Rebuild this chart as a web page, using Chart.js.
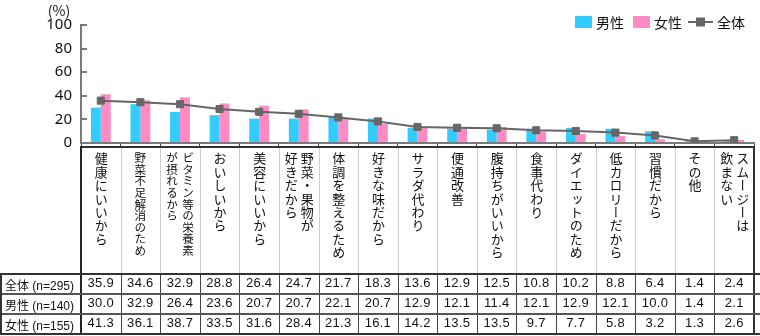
<!DOCTYPE html>
<html>
<head>
<meta charset="utf-8">
<script src="https://cdn.jsdelivr.net/npm/chart.js@4/dist/chart.umd.min.js"></script>
<style>
  html, body { margin: 0; padding: 0; background: #fff; }
  #wrap { position: relative; width: 760px; height: 336px; overflow: hidden; }
  #chart { position: absolute; left: 0; top: 0; }
  .ln { position: absolute; }
  .head { position: absolute; display: flex; justify-content: center; align-items: flex-start; box-sizing: border-box; padding-top: 6px; }
  .head span { writing-mode: vertical-rl; white-space: pre; font-family: "Noto Sans CJK JP", sans-serif; font-size: 13px; line-height: 16px; color: #111; letter-spacing: 0.4px; }
  .head span.long { font-size: 11.6px; letter-spacing: 0; line-height: 16px; }
  .cell { position: absolute; font-family: "Liberation Sans", Arial, sans-serif; font-size: 13px; color: #111; text-align: center; letter-spacing: 0.3px; box-sizing: border-box; padding-top: 2px; white-space: nowrap; }
  .rowlab { text-align: left; padding-left: 5px; font-size: 12px; padding-top: 3px; font-family: "Liberation Sans", "Noto Sans CJK JP", sans-serif; letter-spacing: 0; }
</style>
</head>
<body>
<div id="wrap">
  <canvas id="chart" width="760" height="336"></canvas>
  <div id="table"></div>
</div>
<script>
(function () {
    "use strict";

    const categories = [
        "健康にいいから", "野菜不足解消のため", "ビタミン等の栄養素\nが摂れるから", "おいしいから",
        "美容にいいから", "野菜・果物が\n好きだから", "体調を整えるため", "好きな味だから",
        "サラダ代わり", "便通改善", "腹持ちがいいから", "食事代わり", "ダイエットのため",
        "低カロリーだから", "習慣だから", "その他", "スムージーは\n飲まない"
    ];
    const overall = [35.9, 34.6, 32.9, 28.8, 26.4, 24.7, 21.7, 18.3, 13.6, 12.9, 12.5, 10.8, 10.2, 8.8, 6.4, 1.4, 2.4];
    const male    = [30.0, 32.9, 26.4, 23.6, 20.7, 20.7, 22.1, 20.7, 12.9, 12.1, 11.4, 12.1, 12.9, 12.1, 10.0, 1.4, 2.1];
    const female  = [41.3, 36.1, 38.7, 33.5, 31.6, 28.4, 21.3, 16.1, 14.2, 13.5, 13.5, 9.7, 7.7, 5.8, 3.2, 1.3, 2.6];
    const yTicks = [0, 20, 40, 60, 80, 100];
    const seriesNames = ["男性", "女性", "全体"];
    const rowLabels = ["全体 (n=295)", "男性 (n=140)", "女性 (n=155)"];

    const BLUE = "#33ccff";
    const PINK = "#ff8ac4";
    const GRAY = "#666666";
    const AXIS = "#7a7a7a";

    // legend + "(%)" drawn on the canvas
    const extras = {
        id: "extras",
        afterDraw(chart) {
            const ctx = chart.ctx;
            const y = chart.scales.y;
            ctx.save();
            ctx.fillStyle = "#111";
            ctx.font = '14px "Noto Sans CJK JP"';
            ctx.textAlign = "center";
            ctx.textBaseline = "middle";
            ctx.fillText("(%)", y.right - 22, 11);

            ctx.textAlign = "left";
            let x = 575;
            const cy = 22;
            [BLUE, PINK].forEach((c, i) => {
                ctx.fillStyle = c;
                ctx.fillRect(x, cy - 6, 17, 12);
                ctx.fillStyle = "#111";
                ctx.fillText(seriesNames[i], x + 21, cy + 1);
                x += 21 + ctx.measureText(seriesNames[i]).width + 9;
            });
            x = 688;
            ctx.strokeStyle = GRAY;
            ctx.lineWidth = 2;
            ctx.beginPath(); ctx.moveTo(x, cy); ctx.lineTo(x + 25, cy); ctx.stroke();
            ctx.fillStyle = GRAY;
            ctx.fillRect(x + 8, cy - 4.5, 9, 9);
            ctx.fillStyle = "#111";
            ctx.fillText(seriesNames[2], x + 29, cy + 1);
            ctx.restore();
        }
    };

    const chart = new Chart(document.getElementById("chart"), {
        type: "bar",
        data: {
            labels: categories,
            datasets: [
                { type: "line", label: seriesNames[2], data: overall, order: 0,
                  borderColor: GRAY, borderWidth: 2, backgroundColor: GRAY,
                  pointStyle: "rect", pointRadius: 5, pointBorderWidth: 1,
                  pointBackgroundColor: GRAY, pointBorderColor: GRAY, tension: 0 },
                { label: seriesNames[0], data: male, backgroundColor: BLUE, order: 1,
                  categoryPercentage: 0.5, barPercentage: 1 },
                { label: seriesNames[1], data: female, backgroundColor: PINK, order: 1,
                  categoryPercentage: 0.5, barPercentage: 1 },
            ],
        },
        options: {
            responsive: false, animation: false,
            layout: { padding: { top: 25, right: 1, bottom: 190, left: 0 } },
            plugins: { legend: { display: false }, tooltip: { enabled: false } },
            scales: {
                x: {
                    ticks: { display: false },
                    grid: { offset: true, drawOnChartArea: false, tickLength: 3, color: "#444", lineWidth: 1 },
                    border: { color: AXIS, width: 2 },
                    afterFit: s => { s.height = 3; },
                },
                y: {
                    min: 0, max: 100,
                    afterBuildTicks: s => { s.ticks = yTicks.map(v => ({ value: v })); },
                    ticks: { padding: 15, color: "#111", font: { family: "Noto Sans", size: 15 } },
                    grid: { drawOnChartArea: false, tickLength: -6, color: AXIS, lineWidth: 2 },
                    border: { color: AXIS, width: 2 },
                    afterFit: s => { s.width = 81; },
                },
            },
        },
        plugins: [extras],
    });

    // table under the plot, columns taken from the x scale
    function buildTable() {
        const xs = chart.scales.x;
        const left = chart.chartArea.left;
        const right = chart.chartArea.right;
        const cw = (right - left) / categories.length;
        const headTop = 146, headBot = 273, rowH = 20;
        const out = [];
        const line = (x, y, w, h, c) =>
            out.push(`<div class="ln" style="left:${x}px;top:${y}px;width:${w}px;height:${h}px;background:${c}"></div>`);

        categories.forEach((name, i) => {
            const cx = xs.getPixelForTick(i);
            const long = name.split("\n").some(s => s.length >= 9);
            out.push(`<div class="head" style="left:${cx - cw / 2}px;top:${headTop}px;width:${cw}px;height:${headBot - headTop}px">` +
                `<span class="${long ? "long" : ""}">${name}</span></div>`);
        });
        const rows = [overall, male, female];
        rows.forEach((vals, r) => {
            const top = headBot + r * rowH;
            out.push(`<div class="cell rowlab" style="left:0;top:${top}px;width:${left}px;height:${rowH}px">${rowLabels[r]}</div>`);
            vals.forEach((v, i) => {
                const cx = xs.getPixelForTick(i);
                out.push(`<div class="cell" style="left:${cx - cw / 2}px;top:${top}px;width:${cw}px;height:${rowH}px">${v.toFixed(1)}</div>`);
            });
        });
        // header lines
        for (let i = 1; i < categories.length; i++) {
            line(Math.round(left + i * cw), headTop, 1, headBot - headTop, "#cfcfcf");
            line(Math.round(left + i * cw), headBot, 1, rowH * 3, "#444");
        }
        line(left - 1, headTop, right - left + 2, 2, "#333");
        line(left - 1, headTop, 2, headBot - headTop + rowH * 3, "#222");
        line(right - 1, headTop, 2, headBot - headTop + rowH * 3, "#333");
        // data rows
        line(0, headBot, 760, 2, "#333");
        line(0, headBot + rowH, 760, 1.5, "#555");
        line(0, headBot + rowH * 2, 760, 1.5, "#555");
        line(0, headBot + rowH * 3, 760, 2, "#333");
        line(0, headBot, 2, rowH * 3 + 2, "#333");
        document.getElementById("table").innerHTML = out.join("");
    }
    buildTable();
})();
</script>
</body>
</html>
